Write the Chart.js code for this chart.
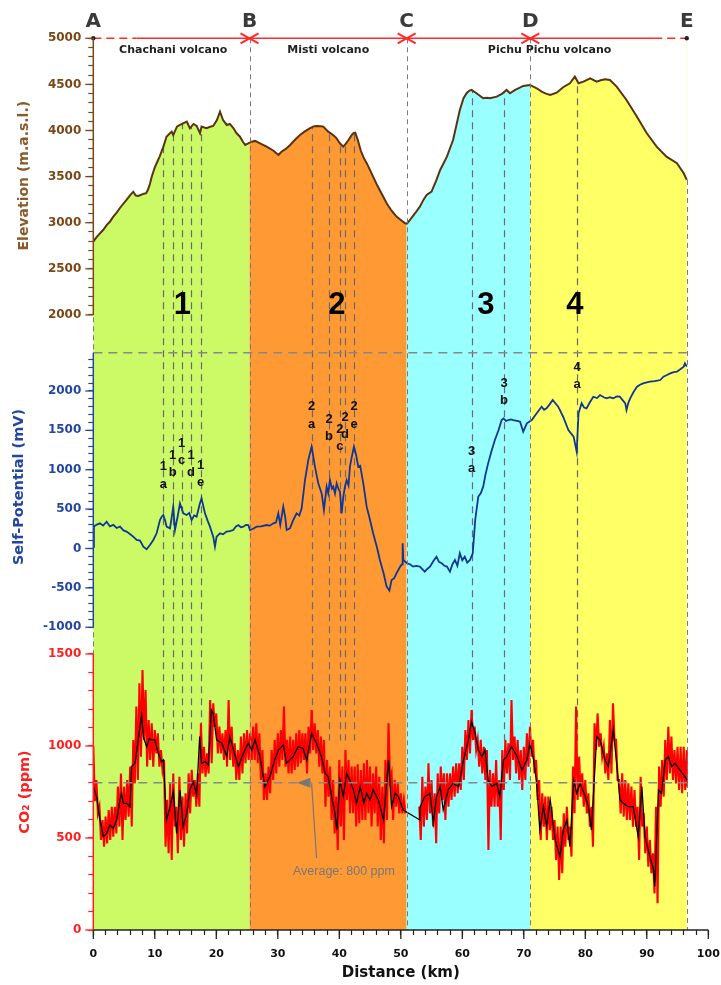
<!DOCTYPE html>
<html>
<head>
<meta charset="utf-8">
<script src="https://cdn.jsdelivr.net/npm/chart.js@4.4.1/dist/chart.umd.min.js"></script>
<style>
  body { margin: 0; background: #fff; }
  canvas { display: block; }
</style>
</head>
<body>
<canvas id="chart" width="721" height="985"></canvas>
<script>
// elevation profile A-E (km, m a.s.l.)
const elevKm = [0, 0.5, 1.1, 1.6, 2.2, 2.7, 3.25, 3.8, 4.3, 4.8, 5.4, 6.0, 6.5, 6.9, 7.3, 7.7, 8.1, 8.6, 8.9, 9.2,
    9.5, 10.0, 10.3, 10.8, 11.4, 11.9, 12.3, 12.75, 13.0, 13.6, 14.1, 14.6, 15.2, 15.7, 16.3, 16.8, 17.35, 17.6, 18.4, 19.0,
    19.5, 20.1, 20.6, 21.1, 21.7, 22.2, 22.8, 23.3, 23.85, 24.3, 24.7, 25.2, 25.75, 26.3, 27.1, 28.2, 29.3, 30.1, 30.6, 31.3,
    32.0, 32.8, 33.6, 34.4, 35.2, 35.8, 36.3, 37.0, 37.4, 38.2, 39.0, 39.5, 40.1, 40.65, 41.1, 41.5, 42.0, 42.3, 42.6, 43.0,
    43.5, 44.0, 44.5, 45.0, 45.5, 46.2, 47.0, 47.7, 48.5, 49.3, 50.0, 50.7, 51.0, 51.5, 52.3, 53.1, 53.7, 54.2, 55.0, 55.8,
    56.4, 57.0, 57.5, 58.5, 59.6, 60.2, 60.7, 61.1, 61.5, 62.3, 63.4, 64.0, 64.5, 65.6, 66.5, 67.2, 67.75, 68.6, 69.2, 69.9,
    71.0, 72.1, 72.9, 73.6, 74.3, 75.35, 76.4, 77.5, 78.3, 78.9, 79.7, 80.8, 81.85, 82.5, 83.2, 84.0, 85.1, 86.7, 88.4, 90.0,
    91.6, 93.2, 94.9, 96.0, 96.5];
const elevM = [2795, 2840, 2886, 2920, 2976, 3010, 3066, 3110, 3157, 3200, 3247, 3300, 3335, 3295, 3290, 3300, 3312, 3320, 3360, 3420,
    3499, 3600, 3645, 3720, 3825, 3933, 3960, 3987, 3950, 4042, 4060, 4078, 4096, 4024, 4071, 4050, 3970, 4042, 4024, 4040,
    4049, 4114, 4204, 4114, 4060, 4071, 4024, 3970, 3933, 3880, 3843, 3861, 3879, 3887, 3861, 3825, 3781, 3735, 3770, 3800,
    3843, 3900, 3952, 3990, 4024, 4045, 4049, 4045, 4042, 3987, 3952, 3920, 3861, 3825, 3860, 3897, 3950, 3970, 3975, 3900,
    3780, 3700, 3640, 3570, 3499, 3400, 3300, 3211, 3130, 3066, 3030, 2994, 2990, 3030, 3100, 3174, 3250, 3301, 3337, 3464,
    3572, 3650, 3716, 3897, 4223, 4350, 4404, 4430, 4440, 4404, 4349, 4355, 4349, 4367, 4400, 4440, 4404, 4440, 4460, 4483,
    4494, 4458, 4421, 4400, 4385, 4410, 4469, 4512, 4584, 4512, 4530, 4566, 4530, 4545, 4555, 4548, 4476, 4331, 4150, 3970,
    3825, 3716, 3645, 3536, 3464];

// self-potential (km, mV)
const spKm = [0, 0.1, 0.5, 1.08, 1.6, 2.17, 2.7, 3.25, 3.8, 4.34, 4.9, 5.42, 6.0, 6.5, 7.05, 7.6, 8.13, 8.67, 9.21, 9.76,
    10.3, 10.84, 11.1, 11.38, 11.7, 11.92, 12.47, 12.8, 13.0, 13.28, 13.7, 14.09, 14.63, 15.18, 15.6, 15.99, 16.4, 16.8, 17.34, 17.6,
    18.16, 18.6, 18.97, 19.5, 19.78, 20.05, 20.6, 21.1, 21.68, 22.2, 22.76, 23.2, 23.58, 24.0, 24.4, 24.8, 25.2, 25.47, 26.0, 26.56,
    27.3, 28.18, 28.7, 29.27, 29.7, 30.08, 30.4, 30.89, 31.2, 31.44, 31.98, 32.52, 33.06, 33.5, 33.88, 34.42, 34.96, 35.5, 36.04, 36.58,
    37.13, 37.5, 37.94, 38.2, 38.48, 38.8, 39.02, 39.3, 39.57, 39.9, 40.11, 40.38, 40.65, 40.92, 41.19, 41.5, 41.73, 42.0, 42.38, 42.7,
    43.09, 43.4, 43.9, 44.45, 45.0, 45.5, 46.1, 46.6, 47.2, 47.7, 48.15, 48.5, 48.9, 49.3, 49.9, 50.2, 50.3, 50.4, 51.0, 51.5,
    52.0, 52.5, 53.1, 53.9, 54.3, 54.75, 55.3, 55.8, 56.2, 56.65, 57.1, 57.5, 58.0, 58.4, 58.8, 59.2, 59.6, 60.0, 60.4, 60.8,
    61.25, 61.7, 62.1, 62.6, 63.0, 63.4, 63.8, 64.2, 64.8, 65.3, 65.9, 66.4, 66.7, 67.1, 67.5, 67.9, 68.3, 68.9, 69.4, 69.9,
    70.5, 71.3, 72.1, 72.9, 73.3, 73.7, 74.2, 74.7, 75.6, 76.4, 77.25, 78.1, 78.6, 78.9, 79.4, 79.8, 80.2, 80.7, 81.3, 81.9,
    82.4, 83.0, 83.5, 84.0, 84.55, 85.1, 85.6, 86.1, 86.5, 86.7, 87.0, 87.3, 87.8, 88.4, 88.9, 89.4, 90.0, 90.5, 91.3, 92.2,
    92.7, 93.2, 93.8, 94.4, 94.9, 95.5, 96.0, 96.2, 96.5];
const spMv = [20, 280, 300, 320, 290, 340, 280, 300, 260, 277, 230, 214, 180, 150, 108, 100, 23, -10, 44, 108,
    193, 362, 400, 425, 350, 277, 256, 420, 531, 235, 400, 573, 446, 425, 450, 362, 420, 404, 573, 636,
    446, 350, 277, 150, 23, 150, 193, 180, 214, 220, 235, 280, 298, 270, 277, 300, 298, 235, 250, 277,
    280, 298, 290, 320, 330, 446, 300, 531, 400, 235, 256, 362, 446, 420, 510, 869, 1123, 1293, 1039, 827,
    700, 489, 785, 700, 869, 760, 785, 700, 827, 750, 721, 446, 658, 785, 869, 800, 1039, 1150, 1293, 1200,
    1039, 1050, 827, 531, 362, 193, 23, -146, -315, -485, -535, -400, -380, -315, -230, -200, 66, -146, -188, -200,
    -230, -220, -230, -294, -260, -230, -160, -104, -170, -188, -220, -230, -294, -200, -146, -220, -61, -150, -104, -180,
    -146, -61, 362, 658, 700, 785, 950, 1081, 1250, 1377, 1504, 1631, 1652, 1620, 1631, 1640, 1631, 1620, 1610, 1483,
    1589, 1631, 1716, 1800, 1760, 1779, 1830, 1885, 1800, 1673, 1504, 1420, 1229, 1716, 1843, 1790, 1779, 1850, 1927, 1910,
    1948, 1920, 1906, 1920, 1906, 1930, 1927, 1880, 1843, 1758, 1850, 1906, 1980, 2054, 2080, 2097, 2110, 2118, 2125, 2139,
    2181, 2200, 2224, 2240, 2245, 2280, 2309, 2351, 2309];

// raw CO2 read as upper / lower envelope every 0.5 km (ppm), gap 51-52.5 km
const co2RawStep = 0.5;
const co2RawHi = [1000, 815, 670, 598, 616, 652, 670, 670, 779, 851, 779, 815, 888, 1033, 1214, 1341, 1413, 1304, 1141, 1123,
    1087, 1069, 978, 924, 707, 797, 851, 670, 833, 725, 743, 851, 870, 815, 851, 1123, 996, 960, 1250, 1232,
    1177, 1105, 1069, 1087, 1250, 1105, 1015, 978, 1051, 1069, 1087, 1069, 1105, 1123, 1069, 978, 851, 888, 978, 1033,
    1069, 1087, 1214, 1033, 1051, 1033, 1069, 1087, 1069, 1069, 1105, 1196, 1123, 1087, 1051, 1033, 924, 888, 815, 725,
    924, 888, 978, 924, 888, 888, 900, 870, 906, 924, 888, 851, 888, 833, 779, 924, 1123, 851, 815, 797,
    743, 707, null, null, null, null, 670, 833, 779, 906, 815, 743, 851, 888, 851, 851, 851, 888, 906, 906,
    996, 1087, 1141, 1196, 1105, 1033, 1033, 996, 978, 870, 851, 924, 815, 978, 1033, 1015, 1250, 1051, 1033, 978,
    996, 1069, 1105, 1033, 924, 815, 743, 725, 725, 670, 598, 562, 562, 634, 670, 562, 888, 1214, 942, 851,
    815, 743, 670, 1123, 1177, 1069, 996, 960, 1141, 1232, 1033, 815, 851, 815, 797, 779, 761, 670, 833, 634,
    562, 489, 417, 670, 888, 924, 1033, 1105, 1051, 978, 996, 996, 996, 978];
const co2RawLo = [700, 634, 489, 453, 471, 489, 507, 525, 562, 489, 598, 616, 562, 797, 815, 942, 1033, 888, 924, 888,
    960, 888, 870, 453, 417, 380, 562, 417, 489, 453, 525, 634, 725, 670, 670, 851, 833, 851, 906, 1105,
    960, 960, 924, 888, 924, 888, 815, 815, 851, 906, 924, 924, 924, 906, 815, 707, 707, 743, 815, 851,
    888, 924, 888, 851, 851, 870, 888, 906, 924, 851, 960, 978, 960, 888, 851, 670, 725, 598, 525, 435,
    562, 489, 707, 634, 634, 562, 580, 598, 598, 634, 562, 634, 562, 489, 471, 598, 815, 598, 670, 634,
    634, 634, null, null, null, null, 489, 562, 598, 634, 562, 471, 634, 707, 598, 670, 707, 725, 743, 761,
    815, 924, 960, 1033, 978, 888, 851, 815, 435, 670, 670, 670, 489, 761, 851, 815, 924, 851, 815, 761,
    815, 888, 942, 851, 707, 489, 562, 489, 543, 489, 380, 272, 308, 453, 489, 399, 634, 707, 725, 670,
    634, 562, 453, 978, 996, 942, 851, 815, 851, 1033, 815, 634, 616, 598, 598, 562, 562, 380, 562, 417,
    344, 308, 199, 145, 670, 725, 815, 851, 815, 797, 761, 743, 761, 779];

// smoothed CO2 (black line)
const co2SmoothKm = [0, 0.54, 1.08, 1.63, 2.17, 2.7, 3.25, 3.8, 4.34, 4.6, 4.88, 5.42, 5.96, 6.23, 6.78, 7.3, 7.86, 8.13, 8.67, 9.1,
    9.5, 10.0, 10.57, 11.1, 11.4, 11.9, 12.5, 13.0, 13.55, 14.1, 14.6, 15.2, 15.7, 16.26, 16.8, 17.3, 17.6, 18.2, 18.7, 19.2,
    19.5, 20.05, 20.9, 21.7, 22.2, 22.8, 23.6, 24.4, 25.2, 25.75, 26.3, 27.1, 27.9, 28.7, 29.5, 30.1, 30.9, 31.4, 32.5, 33.3,
    34.1, 34.7, 35.5, 36.3, 37.1, 37.7, 38.2, 38.75, 39.3, 39.6, 40.1, 40.65, 41.2, 41.7, 42.3, 42.8, 43.4, 44.0, 44.45, 45.0,
    45.5, 46.35, 47.2, 48.0, 48.5, 49.1, 49.6, 50.4, 53.1, 53.15, 53.9, 54.75, 55.3, 55.8, 56.4, 56.9, 57.7, 58.5, 59.4, 60.2,
    61.0, 61.5, 62.1, 62.6, 63.2, 63.7, 64.2, 64.8, 65.6, 66.1, 66.7, 67.2, 68.0, 68.8, 69.7, 70.5, 71.0, 71.6, 72.1, 72.6,
    73.2, 73.7, 74.3, 75.1, 75.9, 76.4, 77.0, 77.5, 78.1, 78.6, 79.15, 80.0, 80.5, 81.0, 81.85, 82.4, 83.2, 83.75, 84.55, 85.1,
    85.65, 86.2, 87.0, 87.8, 88.6, 89.2, 89.7, 90.5, 91.1, 91.3, 91.9, 92.4, 93.0, 93.5, 94.05, 94.6, 95.4, 96.2, 96.5];
const co2SmoothPpm = [779, 725, 598, 507, 525, 571, 553, 598, 707, 743, 688, 688, 670, 888, 906, 1033, 1168, 1051, 996, 1040,
    1033, 1033, 960, 915, 924, 598, 670, 752, 525, 761, 562, 634, 761, 806, 734, 1051, 906, 915, 897, 1196,
    1177, 1033, 1015, 942, 1051, 978, 888, 960, 1015, 978, 1033, 942, 779, 833, 924, 978, 1006, 906, 942, 996,
    987, 924, 1069, 1015, 942, 851, 833, 725, 634, 543, 815, 725, 851, 815, 761, 688, 779, 690, 743, 707,
    761, 707, 598, 924, 670, 743, 725, 652, 598, 670, 725, 743, 580, 725, 779, 652, 761, 797, 779, 924,
    1033, 1132, 1069, 978, 942, 978, 815, 779, 797, 725, 924, 942, 996, 951, 869, 924, 1015, 924, 797, 543,
    670, 562, 707, 489, 399, 543, 598, 453, 815, 743, 797, 725, 670, 543, 1051, 1033, 924, 888, 1087, 906,
    707, 688, 670, 670, 507, 779, 507, 399, 326, 236, 761, 743, 924, 942, 888, 906, 869, 833, 815];
const co2Average = 800;

// profile points, volcanoes, zones and anomalies
const pointLetters = ['A', 'B', 'C', 'D', 'E'];
const pointKm = [0, 25.4, 50.95, 71.06, 96.5];
const volcanoNames = ['Chachani volcano', 'Misti volcano', 'Pichu Pichu volcano'];
const volcanoKm = [13.0, 38.2, 74.2];
const zoneNames = ['1', '2', '3', '4'];
const zoneNameKm = [14.5, 39.6, 63.85, 78.3];
const anomalyKm = [11.38, 12.91, 14.37, 15.89, 17.46, 35.51, 38.33, 40.11, 40.93, 42.39, 61.53, 66.78, 78.65];
const anomalyNum = ['1', '1', '1', '1', '1', '2', '2', '2', '2', '2', '3', '3', '4'];
const anomalyLetter = ['a', 'b', 'c', 'd', 'e', 'a', 'b', 'c', 'd', 'e', 'a', 'b', 'a'];
const anomalyLabelMv = [1038, 1187, 1336, 1187, 1060, 1800, 1640, 1513, 1666, 1800, 1238, 2097, 2300];

const zoneColors = ['#ccfa66', '#ff9933', '#99ffff', '#ffff66'];
const brown = '#7a4716';
const blue = '#2346a0';
const red = '#ff1f1f';

let toXY = function (xs, ys) {
    return xs.map((v, i) => ({x: v, y: ys[i]}));
};

let rawCo2 = function () {
    let pts = [];
    const last = pointKm[pointKm.length - 1];
    for (let i = 0; i < co2RawHi.length; i++) {
        let km = i * co2RawStep;
        if (co2RawHi[i] === null) {
            pts.push({x: km, y: null});
            continue;
        }
        pts.push({x: km, y: co2RawHi[i]});
        pts.push({x: Math.min(km + co2RawStep / 2, last), y: co2RawLo[i]});
    }
    return pts;
};

let line = function (ctx, x1, y1, x2, y2) {
    ctx.beginPath();
    ctx.moveTo(x1, y1);
    ctx.lineTo(x2, y2);
    ctx.stroke();
};

let yAxis = function (min, max, weight, stackWeight, color, tickFrom, tickTo) {
    return {
        type: 'linear',
        position: 'left',
        stack: 'profile',
        stackWeight: stackWeight,
        weight: weight,
        min: min,
        max: max,
        border: {display: false},
        grid: {drawOnChartArea: false, drawTicks: true, tickLength: 5, tickColor: color, tickWidth: 1.2},
        ticks: {
            autoSkip: false, padding: 7, color: color, font: {size: 12, weight: 'bold'},
            callback: v => (v % 500 === 0 ? String(v) : '')
        },
        afterBuildTicks: s => {
            s.ticks = [];
            for (let v = tickFrom; v <= tickTo; v += 100) {
                s.ticks.push({value: v});
            }
        },
        afterFit: s => { s.width = 93.3; s.paddingTop = 0; s.paddingBottom = 0; }
    };
};

const extras = {
    id: 'extras',
    beforeDatasetsDraw(chart) {
        const {ctx, chartArea, scales} = chart;
        const x = scales.x, yC = scales.yCO2;
        ctx.save();
        for (let i = 0; i < zoneColors.length; i++) {
            const x0 = x.getPixelForValue(pointKm[i]);
            const x1 = x.getPixelForValue(pointKm[i + 1]);
            ctx.fillStyle = zoneColors[i];
            ctx.fillRect(x0, chartArea.top, x1 - x0, chartArea.bottom - chartArea.top);
        }
        ctx.strokeStyle = '#6a6a6a';
        ctx.lineWidth = 1.2;
        ctx.setLineDash([7, 5]);
        anomalyKm.forEach(km => {
            const px = Math.round(x.getPixelForValue(km)) + 0.5;
            line(ctx, px, chartArea.top, px, yC.getPixelForValue(1030));
        });
        ctx.restore();
    },
    afterDatasetsDraw(chart) {
        const {ctx, chartArea, scales} = chart;
        const x = scales.x, yE = scales.yElev, yS = scales.ySP, yC = scales.yCO2;
        const top = chartArea.top, bottom = chartArea.bottom, left = chartArea.left;
        const lastKm = pointKm[pointKm.length - 1];
        const xEnd = x.getPixelForValue(lastKm);
        ctx.save();

        // A-E boundaries
        ctx.strokeStyle = '#7a7a7a';
        ctx.lineWidth = 1;
        ctx.setLineDash([5, 4]);
        pointKm.forEach((km, i) => {
            const px = Math.round(x.getPixelForValue(km)) + 0.5;
            const y0 = i === pointKm.length - 1 ? yE.getPixelForValue(elevM[elevM.length - 1]) : top;
            line(ctx, px, y0, px, bottom);
        });

        // panel separator and CO2 average
        ctx.strokeStyle = '#888';
        ctx.lineWidth = 1.5;
        ctx.setLineDash([9, 6]);
        line(ctx, left, yS.top, xEnd, yS.top);
        const yAvg = yC.getPixelForValue(co2Average);
        line(ctx, left, yAvg, xEnd, yAvg);

        ctx.setLineDash([]);
        ctx.strokeStyle = '#777';
        ctx.fillStyle = '#777';
        ctx.lineWidth = 1.2;
        line(ctx, x.getPixelForValue(36.3), yC.getPixelForValue(390), x.getPixelForValue(35.5), yAvg + 1);
        ctx.beginPath();
        ctx.moveTo(x.getPixelForValue(33.1), yAvg);
        ctx.lineTo(x.getPixelForValue(35.3), yAvg - 5);
        ctx.lineTo(x.getPixelForValue(35.3), yAvg + 5);
        ctx.closePath();
        ctx.fill();
        ctx.font = '12.5px "Liberation Sans"';
        ctx.textAlign = 'left';
        ctx.textBaseline = 'middle';
        ctx.fillText('Average: ' + co2Average + ' ppm', x.getPixelForValue(32.47), yC.getPixelForValue(320));

        // red profile line on top
        const yTop = yE.getPixelForValue(5000);
        ctx.strokeStyle = '#ff2a2a';
        ctx.lineWidth = 1.5;
        ctx.setLineDash([8, 5]);
        line(ctx, left, yTop, x.getPixelForValue(7), yTop);
        line(ctx, x.getPixelForValue(91.2), yTop, xEnd, yTop);
        ctx.setLineDash([]);
        line(ctx, x.getPixelForValue(7), yTop, x.getPixelForValue(91.2), yTop);
        ctx.lineWidth = 2;
        for (let i = 1; i < pointKm.length - 1; i++) {
            const px = x.getPixelForValue(pointKm[i]);
            line(ctx, px - 9, yTop - 5, px + 9, yTop + 5);
            line(ctx, px - 9, yTop + 5, px + 9, yTop - 5);
        }
        ctx.fillStyle = '#222';
        [left, xEnd].forEach(px => {
            ctx.beginPath();
            ctx.arc(px, yTop, 2.2, 0, Math.PI * 2);
            ctx.fill();
        });

        // letters and names
        ctx.textAlign = 'center';
        ctx.textBaseline = 'middle';
        ctx.fillStyle = '#3a3a3a';
        ctx.font = 'bold 20px "DejaVu Sans"';
        pointLetters.forEach((t, i) => ctx.fillText(t, x.getPixelForValue(pointKm[i]), 21.5));
        ctx.fillStyle = '#222';
        ctx.font = 'bold 11px "DejaVu Sans"';
        volcanoNames.forEach((t, i) => ctx.fillText(t, x.getPixelForValue(volcanoKm[i]), 50));

        ctx.fillStyle = '#000';
        ctx.font = 'bold 31px "Liberation Sans"';
        zoneNames.forEach((t, i) => ctx.fillText(t, x.getPixelForValue(zoneNameKm[i]), yE.getPixelForValue(2100)));

        ctx.fillStyle = '#111';
        ctx.font = 'bold 13px "Liberation Sans"';
        anomalyKm.forEach((km, i) => {
            const px = x.getPixelForValue(km);
            const py = yS.getPixelForValue(anomalyLabelMv[i]);
            ctx.fillText(anomalyNum[i], px, py);
            ctx.fillText(anomalyLetter[i], px, py + 17.5);
        });

        // axis lines and major ticks
        ctx.lineWidth = 1.5;
        ctx.strokeStyle = brown;
        line(ctx, left, yE.getPixelForValue(5000), left, yE.getPixelForValue(2000));
        ctx.strokeStyle = blue;
        line(ctx, left, yS.top, left, yS.getPixelForValue(-1000));
        ctx.strokeStyle = red;
        line(ctx, left, yC.getPixelForValue(1500), left, yC.getPixelForValue(0));
        ctx.strokeStyle = '#222';
        line(ctx, left, bottom, x.getPixelForValue(100), bottom);

        ctx.lineWidth = 1.3;
        [[yE, brown], [yS, blue], [yC, red]].forEach(([s, c]) => {
            ctx.strokeStyle = c;
            s.ticks.forEach(t => {
                if (t.value % 500 === 0) {
                    const py = s.getPixelForValue(t.value);
                    line(ctx, left - 8, py, left, py);
                }
            });
        });
        ctx.strokeStyle = '#222';
        x.ticks.forEach(t => {
            if (t.value % 10 === 0) {
                const px = x.getPixelForValue(t.value);
                line(ctx, px, bottom, px, bottom + 9);
            }
        });

        // axis titles
        let vTitle = function (text, cx, cy, color, font) {
            ctx.save();
            ctx.translate(cx, cy);
            ctx.rotate(-Math.PI / 2);
            ctx.fillStyle = color;
            ctx.font = font;
            ctx.textAlign = 'center';
            ctx.textBaseline = 'middle';
            ctx.fillText(text, 0, 0);
            ctx.restore();
        };
        vTitle('Elevation (m.a.s.l.)', 24.5, yE.getPixelForValue(3510), '#8a5a2a', 'bold 14px "DejaVu Sans"');
        vTitle('Self-Potential (mV)', 19.5, yS.getPixelForValue(781), blue, 'bold 14.5px "DejaVu Sans"');
        vTitle('CO\u2082 (ppm)', 25, yC.getPixelForValue(750), red, 'bold 14.5px "DejaVu Sans"');

        ctx.restore();
    }
};

Chart.defaults.font.family = '"DejaVu Sans", sans-serif';

let createChart = function () {
    const ctx = document.getElementById('chart');

    new Chart(ctx, {
        type: 'line',
        data: {
            datasets: [
                {
                    label: 'CO2 smoothed',
                    data: toXY(co2SmoothKm, co2SmoothPpm),
                    yAxisID: 'yCO2',
                    borderColor: '#000',
                    borderWidth: 1.3,
                    pointRadius: 0,
                    order: 0
                },
                {
                    label: 'CO2',
                    data: rawCo2(),
                    yAxisID: 'yCO2',
                    borderColor: '#ff0000',
                    borderWidth: 2.1,
                    pointRadius: 0,
                    spanGaps: false,
                    order: 1
                },
                {
                    label: 'Self-Potential',
                    data: toXY(spKm, spMv),
                    yAxisID: 'ySP',
                    borderColor: '#0f3796',
                    borderWidth: 1.8,
                    pointRadius: 0,
                    order: 2
                },
                {
                    label: 'Elevation',
                    data: toXY(elevKm, elevM),
                    yAxisID: 'yElev',
                    borderColor: '#5a3310',
                    borderWidth: 2,
                    pointRadius: 0,
                    fill: 'end',
                    backgroundColor: '#ffffff',
                    order: 3
                }
            ]
        },
        options: {
            responsive: false,
            animation: false,
            devicePixelRatio: 1,
            events: [],
            layout: {padding: {top: 38.3, right: 12.7, bottom: 0, left: 0}},
            plugins: {legend: {display: false}, tooltip: {enabled: false}},
            scales: {
                x: {
                    type: 'linear',
                    min: 0,
                    max: 100,
                    border: {display: false},
                    grid: {drawOnChartArea: false, tickLength: 5, tickColor: '#222', tickWidth: 1.2},
                    ticks: {
                        stepSize: 2, autoSkip: false, maxTicksLimit: 100, maxRotation: 0,
                        padding: 13, color: '#111', font: {size: 11, weight: 'bold'},
                        callback: v => (v % 10 === 0 ? String(v) : '')
                    },
                    title: {display: true, text: 'Distance (km)', color: '#111', font: {size: 15, weight: 'bold'}, padding: {top: 0, bottom: 3}},
                    afterFit: s => { s.height = 55; s.paddingLeft = 0; s.paddingRight = 0; }
                },
                yCO2: yAxis(0, 1576, 1, 290, red, 0, 1500),
                ySP: yAxis(-1162, 2486, 2, 287.3, blue, -1000, 2400),
                yElev: yAxis(1590, 5000, 3, 314.4, brown, 2000, 5000)
            }
        },
        plugins: [extras]
    });
};

createChart();
</script>
</body>
</html>
